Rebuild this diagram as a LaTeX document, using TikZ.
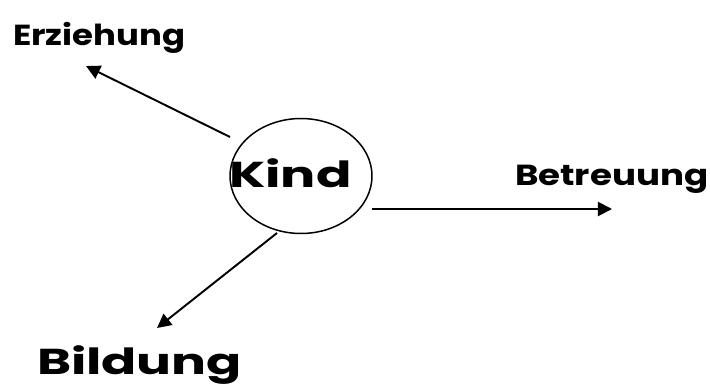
\documentclass[tikz,border=0pt]{standalone}
\usepackage{fontspec}
\setmainfont{Poppins}
\usetikzlibrary{shapes.geometric, arrows.meta, positioning}

\newcommand{\wide}[2]{\scalebox{#1}[1]{#2}}

\begin{document}
\begin{tikzpicture}[
    x=0.02cm, y=-0.02cm,
    every node/.style={inner sep=0pt, outer sep=0pt},
    word/.style={font=\fontsize{16.5}{19}\selectfont\bfseries, anchor=base west},
    bigword/.style={font=\fontsize{20.5}{24}\selectfont\bfseries, anchor=base west},
    bubble/.style={draw, ellipse, line width=0.85pt, minimum width=2.84cm, minimum height=2.3cm},
    link/.style={-{Triangle[length=8pt, width=8pt]}, line width=1.1pt}
]
    \useasboundingbox (0,0) rectangle (710,386);

    % centre
    \node[bubble]  (circ) at (301,176) {};
    \node[bigword] (kind) at (229,187) {\wide{1.45}{Kind}};

    % the three words round it
    \node[word]    (erz)  at (13,45)   {\wide{1.17}{Erziehung}};
    \node[word]    (betr) at (515,185) {\wide{1.23}{Betreuung}};
    \node[bigword] (bild) at (37,374)  {\wide{1.44}{Bildung}};

    % arrow ends
    \coordinate (erztail)  at (230,137);
    \coordinate (erztip)   at (86,66);
    \coordinate (betrtail) at (372,209);
    \coordinate (betrtip)  at (612,209);
    \coordinate (bildtail) at (277,233);
    \coordinate (bildtip)  at (157,328);

    \draw[link] (erztail) -- (erztip);
    \draw[link] (betrtail) -- (betrtip);
    \draw[link] (bildtail) -- (bildtip);
\end{tikzpicture}
\end{document}
